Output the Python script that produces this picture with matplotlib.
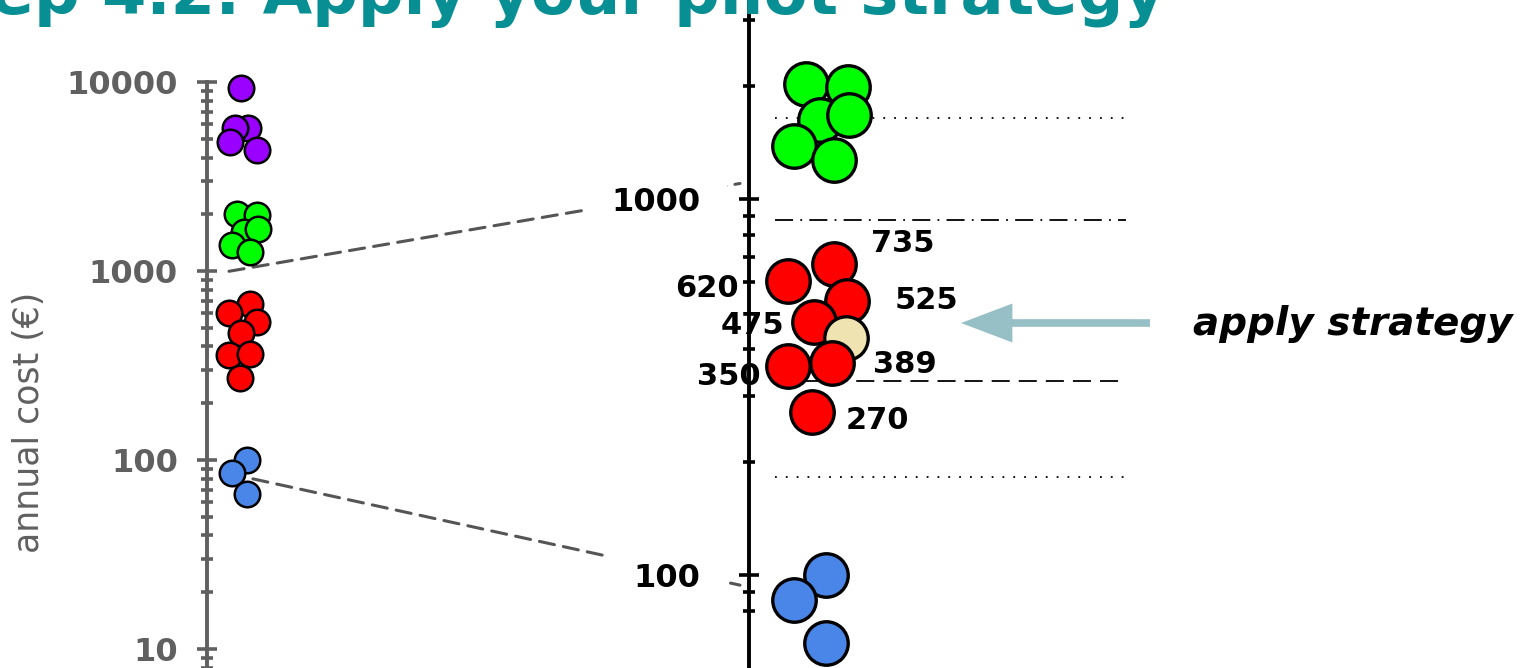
import numpy as np
import matplotlib.pyplot as plt
from matplotlib.patches import ConnectionPatch, FancyArrowPatch
from matplotlib.ticker import FixedLocator, NullFormatter, LogLocator

# annual cost of each household (EUR), one list per tier
purple_cost = [9360, 5750, 5750, 4850, 4390]
green_cost = [2020, 1980, 1620, 1670, 1380, 1270]
red_cost = [672, 604, 537, 472, 360, 366, 272]
blue_cost = [100, 86, 66]
pilot_cost = [426]

# horizontal jitter of the dots inside their strip
purple_jit = [-0.22, 0.29, -0.58, -0.93, 0.89]
green_jit = [-0.45, 0.86, 0.0, 0.92, -0.8, 0.43]
red_jit = [0.43, -0.99, 0.85, -0.2, -1.0, 0.37, -0.24]
blue_jit = [0.2, -0.8, 0.2]
pilot_jit = [0.81]

red_labels = ['735', '620', '525', '475', '350', '389', '270']
label_offsets = [(69, 20), (-81, -7), (79, 0), (-61, -4), (-59, -11), (73, -1), (65, -9)]

# thresholds drawn on the zoomed axis
limits = [1645, 879, 328, 182]
limit_styles = [(0, (1, 5)), (0, (10, 4, 1, 4)), (0, (10, 5)), (0, (1, 5))]

# zoom connectors: value on the left axis -> value on the right axis
zoom_from = [1000, 85]
zoom_to = [1100, 94]

right_minor = [80, 90, 200, 300, 400, 600, 700, 800, 900, 2000, 3000]

PURPLE = '#9900ff'
GREEN = '#00ff00'
RED = '#ff0000'
BLUE = '#4a86e8'
BEIGE = '#efe3b2'
GRAY = '#606060'
TEAL = '#088f94'

W, H = 1521, 668
fig = plt.figure(figsize=(W / 100, H / 100), dpi=100)


def px_box(x0, y0, x1, y1):
    return [x0 / W, 1 - y1 / H, (x1 - x0) / W, (y1 - y0) / H]


ax_l = fig.add_axes(px_box(207, 82.3, 287, 668))
ax_r = fig.add_axes(px_box(749, 0, 1130, 668))
ax_l.set_zorder(1)
ax_r.set_zorder(2)

for ax, col in [(ax_l, GRAY), (ax_r, 'black')]:
    ax.patch.set_visible(False)
    ax.set_yscale('log')
    for s in ['top', 'right', 'bottom']:
        ax.spines[s].set_visible(False)
    ax.spines['left'].set_color(col)
    ax.spines['left'].set_linewidth(2.8)
    ax.set_xticks([])
    ax.yaxis.set_minor_formatter(NullFormatter())
    ax.tick_params(axis='y', which='major', direction='inout', length=14.4,
                   width=2.6, colors=col, labelsize=23)
    ax.tick_params(axis='y', which='minor', direction='inout', length=8.6,
                   width=2.6, colors=col)

# left: full range
ax_l.set_ylim(7.96, 10000)
ax_l.set_xlim(-37 / 15, 43 / 15)
ax_l.set_yticks([10, 100, 1000, 10000], ['10', '100', '1000', '10000'])
ax_l.yaxis.set_minor_locator(LogLocator(subs=np.arange(2, 10)))
ax_l.tick_params(axis='y', which='major', pad=13.7)
for t in ax_l.get_yticklabels():
    t.set_fontweight('bold')

left_groups = [(purple_cost, purple_jit, PURPLE), (green_cost, green_jit, GREEN),
               (red_cost, red_jit, RED), (blue_cost, blue_jit, BLUE)]
for cost, jit, col in left_groups:
    ax_l.scatter(jit, cost, s=338, c=col, edgecolors='black', linewidths=1.8,
                 zorder=3, clip_on=False)

# right: zoom on the middle tiers
ax_r.set_ylim(56.6, 3383)
ax_r.set_xlim(-71 / 32, 310 / 32)
ax_r.set_yticks([100, 1000], ['100', '1000'])
ax_r.yaxis.set_minor_locator(FixedLocator(right_minor))
ax_r.tick_params(axis='y', which='major', pad=28)
for t in ax_r.get_yticklabels():
    t.set_fontweight('bold')
    t.set_bbox(dict(facecolor='white', edgecolor='none', pad=19))

for v, ls in zip(limits, limit_styles):
    ax_r.plot([-45 / 32, 306 / 32], [v, v], color='black', lw=1.3,
              linestyle=ls, zorder=1)

ax_r.scatter(green_jit, green_cost, s=980, c=GREEN, edgecolors='black',
             linewidths=2.4, zorder=3, clip_on=False)
for v, j in zip(red_cost, red_jit):
    z = 3 if v > pilot_cost[0] else 5
    ax_r.scatter([j], [v], s=980, c=RED, edgecolors='black', linewidths=2.4,
                 zorder=z, clip_on=False)
ax_r.scatter(pilot_jit, pilot_cost, s=980, c=BEIGE, edgecolors='black',
             linewidths=2.4, zorder=4, clip_on=False)
ax_r.scatter(blue_jit, blue_cost, s=980, c=BLUE, edgecolors='black',
             linewidths=2.4, zorder=3, clip_on=False)

for v, j, lab, off in zip(red_cost, red_jit, red_labels, label_offsets):
    ax_r.annotate(lab, (j, v), xytext=off, textcoords='offset pixels',
                  ha='center', va='center', fontsize=22, fontweight='bold',
                  zorder=6)

# dashed zoom connectors
for a, b in zip(zoom_from, zoom_to):
    con = ConnectionPatch(xyA=(-1.0, a), coordsA='data', axesA=ax_l,
                          xyB=(-2.5, b), coordsB='data', axesB=ax_r,
                          color='#555555', lw=2.2, linestyle=(0, (5, 3)))
    con.set_annotation_clip(False)
    con.set_zorder(1)
    con.set_clip_on(False)
    ax_l.add_artist(con)

# arrow + note
arrow = FancyArrowPatch((1150 / W, 1 - 323 / H), (961 / W, 1 - 323 / H),
                        transform=fig.transFigure, color='#97bfc6',
                        arrowstyle='simple,head_length=3.7,head_width=2.8,tail_width=0.55',
                        mutation_scale=10, lw=0, shrinkA=0, shrinkB=0)
fig.add_artist(arrow)
fig.text(1193 / W, 1 - 335 / H, 'apply strategy', fontsize=28, style='italic',
         fontweight='bold', ha='left', va='baseline')

fig.text(29 / W, 1 - 422 / H, 'annual cost (€)', rotation=90, fontsize=25,
         color=GRAY, ha='center', va='center')

fig.text(1165 / W, 1 - 14 / H, 'Step 4.2: Apply your pilot strategy',
         fontsize=46, fontweight='bold', color=TEAL, ha='right', va='baseline')

fig.savefig('out.png', dpi=100)
